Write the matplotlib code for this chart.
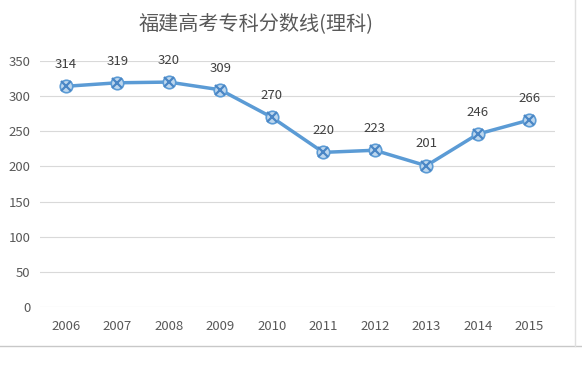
import matplotlib
matplotlib.use('Agg')
import matplotlib.pyplot as plt

plt.rcParams['font.family'] = ['Noto Sans CJK SC', 'DejaVu Sans']

years = ['2006', '2007', '2008', '2009', '2010', '2011', '2012', '2013', '2014', '2015']
scores = [314, 319, 320, 309, 270, 220, 223, 201, 246, 266]
title = '福建高考专科分数线(理科)'

line_color = '#5b9bd5'
text_color = '#595959'

fig = plt.figure(figsize=(5.82, 3.72), dpi=100)
ax = fig.add_axes([40/582, 65/372, 515/582, 246/372])

x = list(range(len(years)))
ax.plot(x, scores, color=line_color, linewidth=2.5, zorder=3)
ax.plot(x, scores, linestyle='none', marker='o', markersize=9,
        markerfacecolor='#bdd7ee', markeredgecolor=line_color, markeredgewidth=1.2, zorder=4)
ax.plot(x, scores, linestyle='none', marker='x', markersize=7,
        markeredgecolor='#4a86c5', markeredgewidth=1.6, zorder=5)

for xi, v in zip(x, scores):
    ax.annotate(str(v), (xi, v), xytext=(0, 11), textcoords='offset points',
                ha='center', va='bottom', fontsize=9.5, color='#404040')

ax.set_xlim(-0.5, len(years) - 0.5)
ax.set_ylim(0, 350)
ax.set_yticks(range(0, 351, 50))
ax.set_xticks(x)
ax.set_xticklabels(years)
ax.tick_params(axis='both', length=0, labelsize=9.5, labelcolor=text_color)
ax.tick_params(axis='x', pad=9)
ax.tick_params(axis='y', pad=7)
ax.grid(axis='y', color='#d9d9d9', linewidth=0.8)
ax.set_axisbelow(True)
for s in ax.spines.values():
    s.set_visible(False)

fig.text(256/582, 1 - 25/372, title, ha='center', va='center', fontsize=14.5, color=text_color)

# window border remnants of the screenshot
fig.add_artist(plt.Line2D([0, 1], [1 - 346/372] * 2, color='#c8c8c8', linewidth=1))
fig.add_artist(plt.Line2D([575/582] * 2, [1 - 346/372, 1], color='#e0e0e0', linewidth=1))

fig.savefig('out.png', dpi=100)
